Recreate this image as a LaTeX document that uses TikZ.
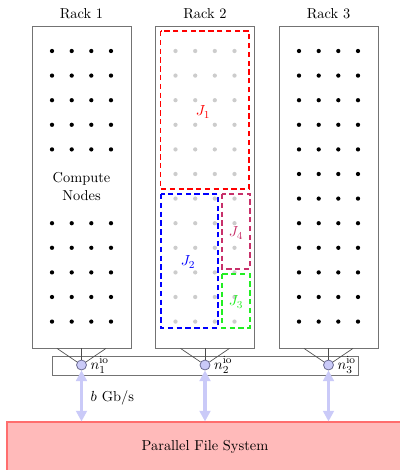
\documentclass[tikz,border=0pt]{standalone}
\usepackage{amsmath, amssymb}
\usepackage{tikz}
\usetikzlibrary{arrows.meta, positioning, calc}
\usepackage{xcolor}
\definecolor{iofill}{HTML}{CACAF8}
\definecolor{iodraw}{HTML}{6A6A90}
\definecolor{pfsfill}{HTML}{FFBABA}
\definecolor{pfsdraw}{HTML}{FF6E6E}
\definecolor{jobpurple}{HTML}{C8306A}
\definecolor{jobgreen}{HTML}{22EE22}

\tikzset{
  rack/.style={draw=black!55, line width=0.6pt, minimum width=74.25pt,
               minimum height=241.5pt, inner sep=0pt},
  cnode/.style={circle, fill=black, inner sep=0pt, minimum size=3.2pt},
  idlenode/.style={cnode, fill=black!20},
  jobbox/.style={line width=0.85pt, dash pattern=on 4pt off 2.6pt},
  ionode/.style={circle, draw=iodraw, fill=iofill, line width=0.6pt,
                 minimum size=7.5pt, inner sep=0pt},
  bw/.style={iofill, line width=2.8pt,
             {Triangle[width=8pt,length=8pt]}-{Triangle[width=8pt,length=8pt]}}
}

\begin{document}
\begin{tikzpicture}[x=0.75pt,y=-0.75pt, font=\fontsize{10.8}{13}\selectfont]
  \useasboundingbox (0,0) rectangle (399,470);

  % file system
  \node[draw=pfsdraw, fill=pfsfill, line width=0.8pt, minimum width=297pt,
        minimum height=37.5pt] (pfs) at (205,447) {Parallel File System};

  % io bar
  \draw[black!55, line width=0.6pt] (52,356) rectangle (358,375);

  % racks
  \foreach \r/\cx in {1/81.5,2/205,3/328.5} {
    \node[rack] (rack\r) at (\cx,187) {};
    \node (racklabel\r) at (\cx,14) {Rack \r};
    \node[ionode] (io\r) at (\cx,365) {};
    \node[right=2pt of io\r, inner sep=0.5pt] (iolabel\r) {$n^{\mathrm{io}}_{\r}$};
    \foreach \dx in {-24.5,0,24.5}
      \draw[black!70, line width=0.5pt] ($(rack\r.south)+(\dx,0)$) -- (io\r);
    \draw[bw] (io\r) -- (io\r |- pfs.north);
  }

  % compute nodes
  \foreach \k in {0,...,11} {
    \foreach \dx in {-29.5,-9.8,9.8,29.5} {
      \ifnum\k=5\else\ifnum\k=6\else
        \node[cnode] (ca\k) at (81.5+\dx,51+24.6*\k) {};
      \fi\fi
      \node[idlenode] (cb\k) at (205+\dx,51+24.6*\k) {};
      \node[cnode] (cc\k) at (328.5+\dx,51+24.6*\k) {};
    }
  }
  \node[align=center] (cnlabel) at (81.5,186.5) {Compute\\[0.5pt]Nodes};

  % jobs
  \draw[jobbox, red] (160.5,31) rectangle (249,189);
  \draw[jobbox, blue] (161,194) rectangle (218,328);
  \draw[jobbox, jobpurple] (222,194) rectangle (250,269);
  \draw[jobbox, jobgreen] (222,274) rectangle (250,328);
  \node[red] (j1) at (203,112) {$J_1$};
  \node[blue] (j2) at (188,262) {$J_2$};
  \node[jobpurple] (j4) at (236,233) {$J_4$};
  \node[jobgreen] (j3) at (236,302) {$J_3$};

  \node[anchor=west] (bwlabel) at (86,398) {$b$ Gb/s};
\end{tikzpicture}
\end{document}
